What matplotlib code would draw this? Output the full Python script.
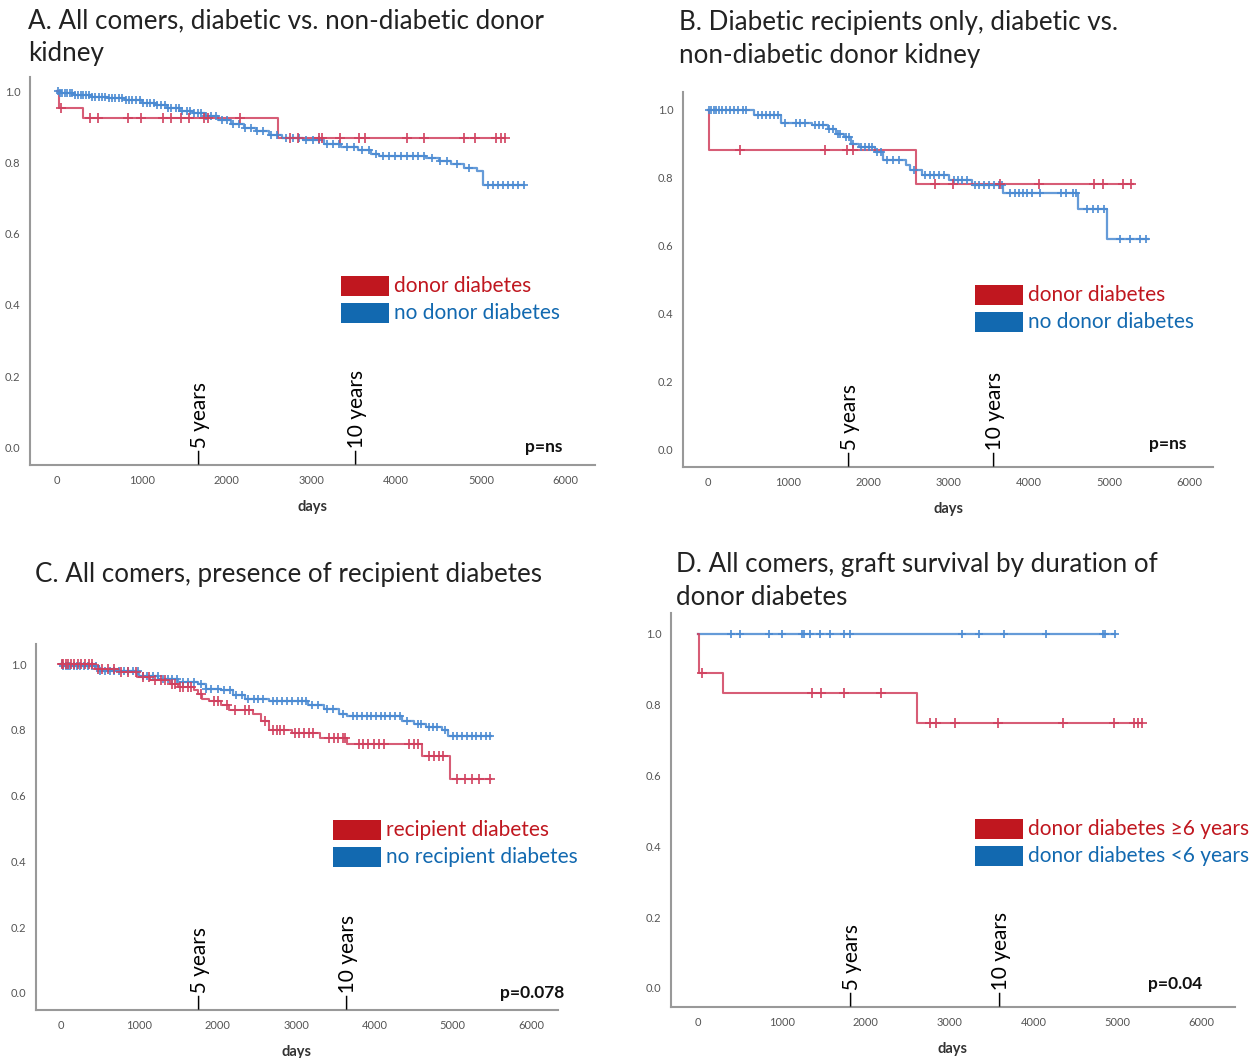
import numpy as np
import matplotlib
matplotlib.use("Agg")
import matplotlib.pyplot as plt
from matplotlib.patches import Rectangle

plt.rcParams['font.family'] = ['Lato', 'DejaVu Sans']

RED_LINE = '#d0405e'
BLUE_LINE = '#4a8ad2'
RED_LEG = '#c0171f'
BLUE_LEG = '#1269b0'

# ---- panel A: all comers, donor diabetes vs no donor diabetes
a_red_t = [0, 20, 302, 2605]
a_red_s = [1.0, 0.953, 0.925, 0.869]
a_red_end = 5288
a_red_c = [47, 395, 488, 837, 990, 1247, 1349, 1465, 1558, 1735, 1781, 2163, 2744, 2837,
           3093, 3130, 3335, 3558, 3628, 4126, 4326, 4805, 4930, 5177, 5233, 5288]
a_blue_t = [0, 30, 200, 400, 600, 800, 1000, 1150, 1300, 1450, 1600, 1750, 1900, 2050, 2200,
            2350, 2500, 2650, 2900, 3150, 3350, 3550, 3700, 3800, 4350, 4500, 4650, 4800, 4950, 5020]
a_blue_s = [1.0, 0.995, 0.99, 0.985, 0.98, 0.975, 0.968, 0.96, 0.952, 0.945, 0.938, 0.93, 0.918,
            0.908, 0.898, 0.888, 0.878, 0.869, 0.862, 0.853, 0.843, 0.835, 0.825, 0.818, 0.812,
            0.803, 0.795, 0.785, 0.775, 0.738]
a_blue_end = 5510
a_blue_c = [15, 40, 65, 90, 120, 150, 180, 210, 245, 280, 310, 345, 380, 415, 450, 490, 530, 570,
            610, 650, 690, 730, 770, 810, 850, 890, 930, 975, 1020, 1060, 1100, 1140, 1185, 1230,
            1270, 1310, 1350, 1400, 1440, 1480, 1530, 1570, 1610, 1660, 1700, 1760, 1820, 1880,
            1950, 2010, 2080, 2150, 2220, 2290, 2360, 2430, 2520, 2600, 2700, 2780, 2850, 2940,
            3020, 3090, 3180, 3260, 3330, 3420, 3500, 3600, 3680, 3760, 3850, 3920, 3990, 4060,
            4130, 4200, 4260, 4330, 4420, 4520, 4600, 4720, 4860, 5080, 5140, 5200, 5260, 5320,
            5380, 5440, 5510]

# ---- panel B: diabetic recipients only
b_red_t = [0, 15, 2592]
b_red_s = [1.0, 0.882, 0.783]
b_red_end = 5291
b_red_c = [393, 1456, 1728, 1801, 2830, 3049, 3631, 4117, 4811, 4917, 5170, 5272]
b_blue_t = [0, 573, 913, 1301, 1495, 1592, 1689, 1786, 1883, 2078, 2175, 2466, 2515, 2660, 3000,
            3291, 3680, 4602, 4966]
b_blue_s = [1.0, 0.985, 0.963, 0.955, 0.945, 0.93, 0.92, 0.9, 0.89, 0.875, 0.853, 0.838, 0.823,
            0.808, 0.794, 0.779, 0.754, 0.707, 0.619]
b_blue_end = 5476
b_blue_c = [15, 40, 70, 100, 140, 180, 230, 280, 330, 380, 430, 470, 620, 670, 720, 770, 820, 870,
            960, 1100, 1150, 1210, 1330, 1380, 1430, 1510, 1560, 1620, 1650, 1720, 1760, 1810,
            1900, 1950, 2000, 2040, 2110, 2150, 2230, 2300, 2380, 2560, 2700, 2760, 2820, 2880,
            2940, 3060, 3110, 3160, 3220, 3320, 3380, 3440, 3500, 3560, 3620, 3660, 3760, 3820,
            3870, 3920, 3970, 4040, 4140, 4400, 4460, 4540, 4580, 4720, 4800, 4860, 4930, 5130,
            5250, 5380, 5460]

# ---- panel C: recipient diabetes
c_red_t = [0, 437, 739, 965, 1141, 1392, 1492, 1693, 1744, 1794, 1894, 2045, 2146, 2447, 2548,
           2648, 2950, 3302, 3653, 4608, 4960]
c_red_s = [1.0, 0.985, 0.975, 0.96, 0.952, 0.94, 0.93, 0.92, 0.91, 0.894, 0.887, 0.874, 0.859,
           0.848, 0.828, 0.8, 0.79, 0.776, 0.758, 0.72, 0.649]
c_red_end = 5487
c_red_c = [10, 30, 60, 90, 130, 170, 210, 260, 310, 360, 400, 470, 520, 600, 680, 760, 850, 960,
           1050, 1120, 1200, 1280, 1330, 1420, 1460, 1520, 1560, 1620, 1660, 1780, 1950, 2000,
           2120, 2220, 2350, 2400, 2600, 2700, 2750, 2800, 2850, 2980, 3040, 3100, 3170, 3220,
           3420, 3480, 3540, 3600, 3630, 3800, 3860, 3920, 3990, 4060, 4120, 4440, 4500, 4560,
           4700, 4760, 4820, 4880, 5050, 5150, 5240, 5330, 5480]
c_blue_t = [0, 20, 487, 990, 1241, 1492, 1744, 1844, 2045, 2196, 2347, 2648, 3151, 3352, 3553,
            3653, 4357, 4508, 4658, 4859, 4935]
c_blue_s = [1.0, 0.995, 0.98, 0.965, 0.955, 0.944, 0.94, 0.925, 0.92, 0.907, 0.894, 0.887, 0.874,
            0.862, 0.849, 0.841, 0.828, 0.818, 0.808, 0.798, 0.78]
c_blue_end = 5487
c_blue_c = [10, 30, 60, 90, 120, 160, 200, 240, 290, 340, 390, 440, 500, 560, 620, 680, 740, 800,
            860, 920, 980, 1040, 1100, 1170, 1240, 1300, 1360, 1420, 1480, 1550, 1620, 1700,
            1780, 1850, 1920, 2000, 2080, 2150, 2230, 2310, 2390, 2460, 2520, 2580, 2700, 2760,
            2820, 2880, 2950, 3020, 3080, 3130, 3200, 3280, 3400, 3470, 3600, 3720, 3780, 3840,
            3900, 3960, 4020, 4080, 4140, 4200, 4260, 4320, 4420, 4560, 4600, 4700, 4750, 4800,
            4900, 5000, 5060, 5120, 5180, 5240, 5300, 5360, 5420, 5480]

# ---- panel D: duration of donor diabetes
d_red_t = [0, 10, 300, 2606]
d_red_s = [1.0, 0.89, 0.833, 0.749]
d_red_end = 5291
d_red_c = [47, 1357, 1469, 1742, 2174, 2765, 2836, 3061, 3568, 4343, 4953, 5188, 5244, 5291]
d_blue_t = [0]
d_blue_s = [1.0]
d_blue_end = 4962
d_blue_c = [394, 502, 845, 995, 1244, 1268, 1338, 1455, 1573, 1737, 1808, 3141, 3343, 3648,
            4141, 4822, 4845, 4962]

titles = ["A. All comers, diabetic vs. non-diabetic donor\nkidney",
          "B. Diabetic recipients only, diabetic vs.\nnon-diabetic donor kidney",
          "C. All comers, presence of recipient diabetes",
          "D. All comers, graft survival by duration of\ndonor diabetes"]
legend_labels = [["donor diabetes", "no donor diabetes"],
                 ["donor diabetes", "no donor diabetes"],
                 ["recipient diabetes", "no recipient diabetes"],
                 ["donor diabetes \u22656 years", "donor diabetes <6 years"]]
p_texts = ["p=ns", "p=ns", "p=0.078", "p=0.04"]
year_marks = [[1686, 3538], [1768, 3574], [1777, 3657], [1838, 3604]]

W, H = 1257, 1058
fig = plt.figure(figsize=(W / 100, H / 100), dpi=100)


def px(l, t, r, b):
    return [l / W, 1 - b / H, (r - l) / W, (b - t) / H]


def km(ax, t, s, end, cens, color, lw, ms):
    tt = list(t) + [end]
    ss = list(s) + [s[-1]]
    ax.step(tt, ss, where='post', color=color, lw=lw, alpha=0.85, zorder=3)
    idx = np.searchsorted(t, cens, side='right') - 1
    ax.plot(cens, np.array(s)[idx], ls='none', marker='+', ms=ms, mew=1.4,
            color=color, alpha=0.85, zorder=4)


# axes boxes (left, top, right, bottom in pixels), x and y limits
boxes = [(30, 77, 595, 465), (683, 92, 1213, 467), (36, 644, 558, 1010), (671, 613, 1235, 1007)]
xlims = [(-318, 6344), (-311, 6289), (-320, 6343), (-322, 6396)]
ylims = [(-0.05, 1.04), (-0.053, 1.053), (-0.052, 1.061), (-0.054, 1.059)]
title_pos = [(28, 8), (679, 10), (35, 562), (676, 552)]
leg_pos = [(341, 276), (975, 285), (333, 820), (975, 819)]
p_x = [5960, 5960, 6420, 6000]
p_y = [0.0, 0.015, 0.0, 0.012]

data = [
    (a_red_t, a_red_s, a_red_end, a_red_c, a_blue_t, a_blue_s, a_blue_end, a_blue_c),
    (b_red_t, b_red_s, b_red_end, b_red_c, b_blue_t, b_blue_s, b_blue_end, b_blue_c),
    (c_red_t, c_red_s, c_red_end, c_red_c, c_blue_t, c_blue_s, c_blue_end, c_blue_c),
    (d_red_t, d_red_s, d_red_end, d_red_c, d_blue_t, d_blue_s, d_blue_end, d_blue_c),
]

for i in range(4):
    ax = fig.add_axes(px(*boxes[i]))
    rt, rs, rend, rc, bt, bs, bend, bc = data[i]
    km(ax, bt, bs, bend, bc, BLUE_LINE, 1.6, 6)
    km(ax, rt, rs, rend, rc, RED_LINE, 1.5, 7)
    ax.set_xlim(*xlims[i])
    ax.set_ylim(*ylims[i])
    ax.set_xticks([0, 1000, 2000, 3000, 4000, 5000, 6000])
    ax.set_yticks([0.0, 0.2, 0.4, 0.6, 0.8, 1.0])
    ax.set_yticklabels(['0.0', '0.2', '0.4', '0.6', '0.8', '1.0'])
    ax.tick_params(length=0, labelsize=8, colors='#555555', pad=7)
    for sp in ['top', 'right']:
        ax.spines[sp].set_visible(False)
    for sp in ['left', 'bottom']:
        ax.spines[sp].set_color('#999999')
        ax.spines[sp].set_linewidth(1.5)
    ax.set_xlabel('days', fontsize=10.5, fontweight='bold', color='#333333', labelpad=10)

    for d, lab in zip(year_marks[i], ['\u20145 years', '\u201410 years']):
        ax.text(d, ylims[i][0], lab, rotation=90, ha='center', va='bottom',
                fontsize=15, color='black')
    ax.text(p_x[i], p_y[i], p_texts[i], ha='right', va='center', fontsize=12.5,
            fontweight='bold', color='#111111')

    tx, ty = title_pos[i]
    fig.text(tx / W, 1 - ty / H, titles[i], ha='left', va='top', fontsize=18.7,
             color='#222222', linespacing=1.42)

    lx, ly = leg_pos[i]
    for k, col in enumerate([RED_LEG, BLUE_LEG]):
        yy = ly + k * 27
        fig.add_artist(Rectangle((lx / W, 1 - (yy + 20) / H), 48 / W, 20 / H,
                                 transform=fig.transFigure, color=col, lw=0))
        fig.text((lx + 53) / W, 1 - (yy + 10) / H, legend_labels[i][k], ha='left',
                 va='center', fontsize=15, color=col)

fig.savefig('out.png', dpi=100)
